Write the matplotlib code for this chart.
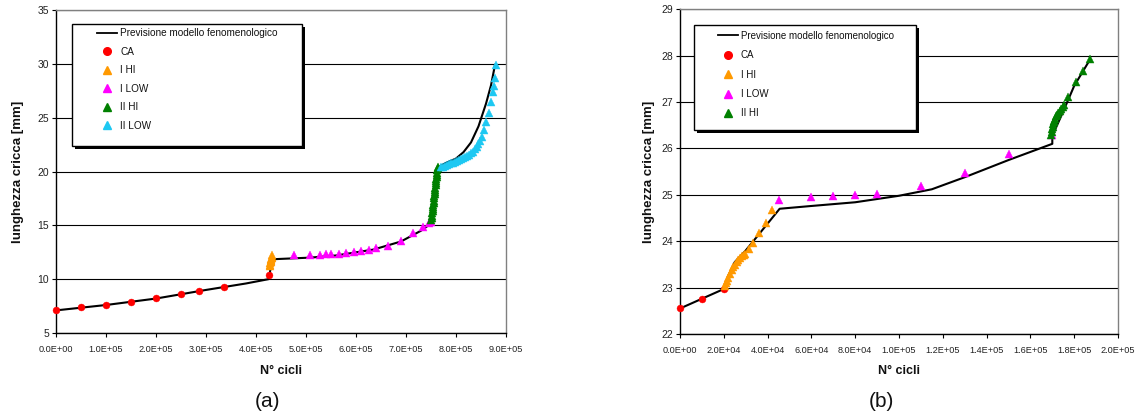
import matplotlib
matplotlib.use("Agg")
import matplotlib.pyplot as plt
from matplotlib.lines import Line2D
from matplotlib.patches import Rectangle
from matplotlib.ticker import FuncFormatter, MultipleLocator
from matplotlib import font_manager

# ---------------- data: chart (a) ----------------
line_a_N = [0, 1.0e5, 2.0e5, 3.0e5, 3.8e5, 4.25e5, 4.33e5, 5.08e5, 5.6e5, 6.35e5, 6.9e5,
            7.3e5, 7.48e5, 7.5e5, 7.64e5, 7.8e5, 8.0e5, 8.15e5, 8.3e5, 8.45e5, 8.6e5, 8.7e5, 8.78e5]
line_a_v = [7.1, 7.6, 8.2, 9.0, 9.6, 10.0, 11.85, 12.0, 12.2, 12.75, 13.5,
            14.5, 15.1, 15.5, 20.4, 20.8, 21.2, 21.8, 22.7, 24.2, 26.3, 28.0, 29.9]

ca_a_N = [0, 0.49e5, 1.0e5, 1.5e5, 2.0e5, 2.5e5, 2.85e5, 3.35e5, 4.25e5]
ca_a_v = [7.12, 7.37, 7.62, 7.87, 8.21, 8.64, 8.86, 9.3, 10.38]

ihi_a_N = [4.27e5, 4.28e5, 4.285e5, 4.29e5, 4.295e5, 4.30e5, 4.305e5, 4.31e5, 4.315e5, 4.32e5]
ihi_a_v = [11.2, 11.35, 11.5, 11.6, 11.7, 11.8, 11.9, 12.0, 12.1, 12.2]

ilow_a_N = [4.75e5, 5.08e5, 5.28e5, 5.39e5, 5.49e5, 5.65e5, 5.79e5, 5.95e5, 6.09e5, 6.25e5,
            6.39e5, 6.63e5, 6.89e5, 7.13e5, 7.33e5, 7.45e5, 7.5e5]
ilow_a_v = [12.27, 12.27, 12.27, 12.33, 12.32, 12.37, 12.43, 12.5, 12.6, 12.72,
            12.88, 13.1, 13.55, 14.3, 14.85, 15.2, 15.35]

iihi_a_N = [7.50e5, 7.51e5, 7.52e5, 7.525e5, 7.53e5, 7.535e5, 7.54e5, 7.545e5, 7.55e5, 7.555e5,
            7.56e5, 7.565e5, 7.57e5, 7.575e5, 7.58e5, 7.585e5, 7.59e5, 7.595e5, 7.60e5, 7.605e5,
            7.61e5, 7.615e5, 7.62e5, 7.625e5, 7.63e5, 7.64e5]
iihi_a_v = [15.5, 15.7, 15.9, 16.1, 16.3, 16.5, 16.7, 16.9, 17.1, 17.3,
            17.5, 17.7, 17.9, 18.1, 18.3, 18.5, 18.7, 18.9, 19.1, 19.3,
            19.5, 19.7, 19.9, 20.1, 20.3, 20.4]

iilow_a_N = [7.69e5, 7.73e5, 7.77e5, 7.81e5, 7.85e5, 7.89e5, 7.93e5, 7.97e5, 8.01e5, 8.05e5,
             8.09e5, 8.13e5, 8.17e5, 8.21e5, 8.25e5, 8.29e5, 8.33e5, 8.37e5, 8.41e5, 8.44e5,
             8.47e5, 8.51e5, 8.55e5, 8.59e5, 8.65e5, 8.70e5, 8.74e5, 8.76e5, 8.78e5, 8.80e5]
iilow_a_v = [20.4, 20.45, 20.5, 20.6, 20.68, 20.75, 20.82, 20.9, 20.98, 21.05,
             21.15, 21.25, 21.35, 21.45, 21.55, 21.7, 21.85, 22.05, 22.3, 22.55,
             22.8, 23.2, 23.9, 24.6, 25.45, 26.5, 27.4, 27.9, 28.7, 29.9]

# ---------------- data: chart (b) ----------------
line_b_N = [0, 2.0e4, 2.2e4, 2.5e4, 3.0e4, 4.55e4, 6.0e4, 8.0e4, 1.0e5, 1.15e5, 1.3e5,
            1.5e5, 1.7e5, 1.7e5, 1.75e5, 1.8e5, 1.87e5]
line_b_v = [22.55, 22.97, 23.25, 23.55, 23.8, 24.7, 24.76, 24.84, 24.98, 25.12, 25.38,
            25.75, 26.1, 26.27, 26.8, 27.35, 27.9]

ca_b_N = [0, 1.0e4, 2.0e4]
ca_b_v = [22.55, 22.76, 22.98]

ihi_b_N = [2.05e4, 2.1e4, 2.15e4, 2.2e4, 2.28e4, 2.36e4, 2.44e4, 2.51e4, 2.58e4, 2.66e4,
           2.74e4, 2.82e4, 2.9e4, 2.97e4, 3.15e4, 3.35e4, 3.62e4, 3.93e4, 4.2e4]
ihi_b_v = [23.04, 23.1, 23.15, 23.2, 23.3, 23.38, 23.44, 23.49, 23.55, 23.6,
           23.64, 23.68, 23.71, 23.73, 23.83, 23.97, 24.17, 24.39, 24.67]

ilow_b_N = [4.53e4, 6.0e4, 7.0e4, 8.0e4, 9.0e4, 1.1e5, 1.3e5, 1.5e5, 1.7e5]
ilow_b_v = [24.89, 24.95, 24.97, 25.0, 25.02, 25.2, 25.47, 25.87, 26.28]

iihi_b_N = [1.695e5, 1.697e5, 1.699e5, 1.701e5, 1.703e5, 1.706e5, 1.709e5, 1.713e5, 1.717e5,
            1.722e5, 1.727e5, 1.733e5, 1.74e5, 1.747e5, 1.755e5, 1.77e5, 1.81e5, 1.84e5, 1.87e5]
iihi_b_v = [26.3, 26.36, 26.42, 26.47, 26.52, 26.56, 26.6, 26.64, 26.69,
            26.73, 26.77, 26.81, 26.85, 26.89, 26.94, 27.1, 27.44, 27.68, 27.92]

labels = ["Previsione modello fenomenologico", "CA", "I HI", "I LOW", "II HI", "II LOW"]
colors = {"CA": "#FF0000", "I HI": "#FF9900", "I LOW": "#FF00FF", "II HI": "#008000", "II LOW": "#1DC8F2"}

# ---------------- style ----------------
avail = {f.name for f in font_manager.fontManager.ttflist}
base_font = "Liberation Sans" if "Liberation Sans" in avail else "DejaVu Sans"
narrow_font = "Liberation Sans Narrow" if "Liberation Sans Narrow" in avail else base_font
plt.rcParams["font.family"] = [base_font, "DejaVu Sans"]

W, H = 1141, 419
fig = plt.figure(figsize=(W / 100, H / 100), dpi=100)


def px_axes(l, r, t, b):
    return fig.add_axes([l / W, (H - b) / H, (r - l) / W, (b - t) / H])


def style_axes(ax, xmax, xstep, ymin, ymax, ystep):
    ax.set_xlim(0, xmax)
    ax.set_ylim(ymin, ymax)
    ax.xaxis.set_major_locator(MultipleLocator(xstep))
    ax.yaxis.set_major_locator(MultipleLocator(ystep))
    ax.xaxis.set_major_formatter(FuncFormatter(lambda v, p: f"{v:.1E}"))
    ax.yaxis.set_major_formatter(FuncFormatter(lambda v, p: f"{v:g}"))
    ax.set_axisbelow(True)
    ax.yaxis.grid(True, color="black", linewidth=0.8)
    ax.xaxis.grid(False)
    for s in ["left", "bottom"]:
        ax.spines[s].set_color("black")
        ax.spines[s].set_linewidth(1.0)
    for s in ["top", "right"]:
        ax.spines[s].set_color("#808080")
        ax.spines[s].set_linewidth(1.0)
    ax.tick_params(axis="x", direction="out", length=3, width=0.8, pad=5.5, labelsize=6.6, colors="black")
    ax.tick_params(axis="y", direction="out", length=3, width=0.8, pad=2, labelsize=7.5, colors="black")
    for t in ax.get_xticklabels():
        t.set_fontfamily([narrow_font, "DejaVu Sans"])
        t.set_color("#222222")
    for t in ax.get_yticklabels():
        t.set_color("#222222")


def draw_series(ax, N, V, key, marker):
    ax.plot(N, V, linestyle="none", marker=marker, markersize=5.0 if marker == "o" else 5.2,
            markerfacecolor=colors[key], markeredgecolor=colors[key], markeredgewidth=0.3,
            zorder=3, clip_on=False)


def draw_legend(ax, keys, box, anchor, fs, spacing, ax_w, ax_h):
    x0, y0, x1, y1 = box
    dx, dy = 3 / ax_w, 3 / ax_h
    ax.add_patch(Rectangle((x0 + dx, y0 - dy), x1 - x0, y1 - y0, transform=ax.transAxes,
                           facecolor="black", edgecolor="none", zorder=5, clip_on=False))
    ax.add_patch(Rectangle((x0, y0), x1 - x0, y1 - y0, transform=ax.transAxes,
                           facecolor="white", edgecolor="black", linewidth=1.0, zorder=6, clip_on=False))
    handles = [Line2D([], [], color="black", linewidth=1.3)]
    for k in keys:
        m = "o" if k == "CA" else "^"
        handles.append(Line2D([], [], linestyle="none", marker=m, markersize=5.5,
                              markerfacecolor=colors[k], markeredgecolor=colors[k]))
    leg = ax.legend(handles, [labels[0]] + keys, loc="upper left", bbox_to_anchor=anchor,
                    frameon=False, borderaxespad=0, borderpad=0, handlelength=2.0,
                    handletextpad=0.3, labelspacing=spacing, fontsize=fs)
    leg.set_zorder(7)
    for t in leg.get_texts():
        t.set_color("#111111")


# ---------------- chart (a) ----------------
ax1 = px_axes(56, 506, 10, 333)
ax1.plot(line_a_N, line_a_v, color="black", linewidth=1.5, zorder=2)
draw_series(ax1, ca_a_N, ca_a_v, "CA", "o")
draw_series(ax1, ihi_a_N, ihi_a_v, "I HI", "^")
draw_series(ax1, ilow_a_N, ilow_a_v, "I LOW", "^")
draw_series(ax1, iihi_a_N, iihi_a_v, "II HI", "^")
draw_series(ax1, iilow_a_N, iilow_a_v, "II LOW", "^")
style_axes(ax1, 9.0e5, 1.0e5, 5, 35, 5)
draw_legend(ax1, ["CA", "I HI", "I LOW", "II HI", "II LOW"],
            (0.0356, 0.579, 0.5467, 0.9576), (0.0918, 0.944), 7.2, 0.85, 450, 323)

# ---------------- chart (b) ----------------
ax2 = px_axes(680, 1118, 9.3, 334)
ax2.plot(line_b_N, line_b_v, color="black", linewidth=1.5, zorder=2)
draw_series(ax2, ca_b_N, ca_b_v, "CA", "o")
draw_series(ax2, ihi_b_N, ihi_b_v, "I HI", "^")
draw_series(ax2, ilow_b_N, ilow_b_v, "I LOW", "^")
draw_series(ax2, iihi_b_N, iihi_b_v, "II HI", "^")
style_axes(ax2, 2.0e5, 2.0e4, 22, 29, 1)
draw_legend(ax2, ["CA", "I HI", "I LOW", "II HI"],
            (0.032, 0.628, 0.538, 0.9516), (0.0874, 0.934), 7.0, 0.97, 438, 324.7)

# ---------------- labels ----------------
for (xc, yl_x, sub_x, sub) in [(281, 18, 268, "(a)"), (899, 648.7, 881.5, "(b)")]:
    fig.text(xc / W, 1 - 370.5 / H, "N° cicli", ha="center", va="center",
             fontsize=9, fontweight="bold", color="#111111")
    fig.text(yl_x / W, 1 - 171.5 / H, "lunghezza cricca [mm]", ha="center", va="center",
             rotation=90, fontsize=9.5, fontweight="bold", color="#111111")
    fig.text(sub_x / W, 1 - 401 / H, sub, ha="center", va="center", fontsize=15, color="#111111")

fig.savefig("out.png", dpi=100)
